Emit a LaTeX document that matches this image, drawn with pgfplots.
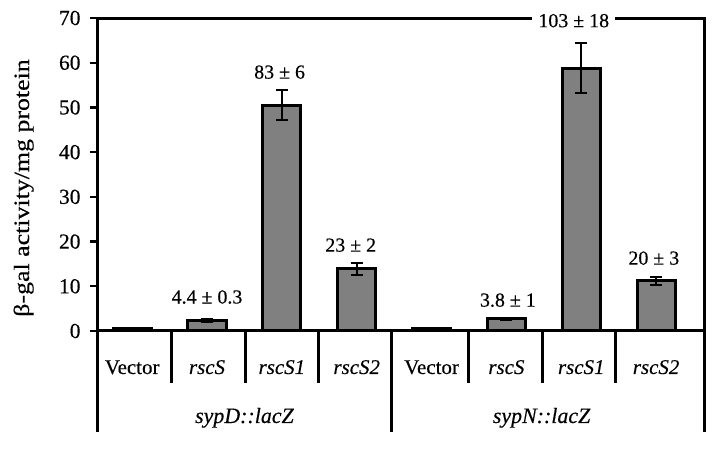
\documentclass[border=0pt]{standalone}
\usepackage{fontspec}
\setmainfont{Liberation Serif}[FakeBold=0.3]
\newfontfamily\widefont{Liberation Serif}[FakeStretch=1.18, FakeBold=0.3]
\usepackage{pgfplots}
\pgfplotsset{compat=1.18}
\usepackage{pgfplotstable}
\definecolor{bargray}{HTML}{808080}
\pgfplotstableread{
x y err
0 0.5 0.2
1 2.3 0.3
2 50.5 3.4
3 13.9 1.3
4 0.5 0.15
5 2.7 0.2
6 58.8 5.6
7 11.2 0.9
}\datatable
\begin{document}
\begin{tikzpicture}
\path[use as bounding box] (0,0) rectangle (720bp,450bp);
\begin{axis}[
  at={(97bp,119bp)}, anchor=south west,
  scale only axis, width=607bp, height=313bp,
  xmin=-0.47, xmax=7.64, ymin=0, ymax=70,
  ytick={0,10,...,70},
  ytick pos=left, tick align=outside,
  major tick length=7bp,
  xtick={0,...,7},
  xticklabels={Vector,\textit{rscS},\textit{rscS1},\textit{rscS2},Vector,\textit{rscS},\textit{rscS1},\textit{rscS2}},
  x tick style={draw=none},
  xticklabel style={anchor=base, yshift=-36bp, font=\fontsize{21}{24}\selectfont},
  yticklabel style={font=\fontsize{21.5}{24}\selectfont, xshift=-6bp},
  /pgf/number format/assume math mode=true,
  axis line style={line width=3bp},
  y tick style={line width=2.2bp, black},
  clip=false,
  ybar, bar width=0.51,
]
\addplot[fill=bargray, draw=black, line width=3bp,
  error bars/.cd, y dir=both, y explicit,
  error bar style={line width=2.2bp, black},
  error mark options={rotate=90, mark size=6bp, line width=2.2bp, black}]
  table[x=x, y=y, y error=err] {\datatable};
% category separators
\pgfplotsinvokeforeach{0.53,1.51,2.49,4.5,5.48,6.46}
  {\draw[line width=3bp] (axis cs:#1,0) -- (axis cs:#1,-11.63);}
\pgfplotsinvokeforeach{-0.47,3.46,7.64}
  {\draw[line width=3bp] (axis cs:#1,0) -- (axis cs:#1,-22.59);}
\node[anchor=base, font=\fontsize{22}{26}\selectfont\itshape] at ([yshift=-92bp]axis cs:1.5,0) {sypD::lacZ};
\node[anchor=base, font=\fontsize{22}{26}\selectfont\itshape] at ([yshift=-92bp]axis cs:5.47,0) {sypN::lacZ};
% value labels
\begin{scope}[every node/.style={font=\fontsize{20}{22}\selectfont, fill=white, inner xsep=6bp, inner ysep=3bp}]
\node at (axis cs:1.97,57.9) {83 ± 6};
\node at (axis cs:5.90,69.4) {103 ± 18};
\node at (axis cs:1.0,7.6) {4.4 ± 0.3};
\node at (axis cs:2.92,19.2) {23 ± 2};
\node at (axis cs:5.02,6.9) {3.8 ± 1};
\node at (axis cs:6.97,16.3) {20 ± 3};
\end{scope}
\end{axis}
\node[rotate=90, anchor=base, font=\fontsize{22}{26}\widefont] at (29bp,262bp) {β-gal activity/mg protein};
\end{tikzpicture}
\end{document}
